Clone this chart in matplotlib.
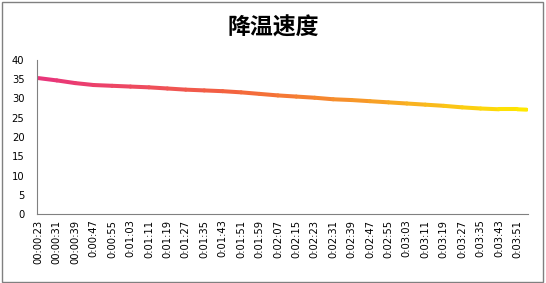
import matplotlib
matplotlib.use("Agg")
import matplotlib.pyplot as plt
import numpy as np
from matplotlib.collections import LineCollection
from matplotlib.colors import LinearSegmentedColormap
from matplotlib.patches import Rectangle

# seconds since start (category positions)
seconds = [23, 31, 39, 47, 55, 63, 71, 79, 87, 95, 103, 111, 119, 127, 135,
           143, 151, 159, 167, 175, 183, 191, 199, 207, 215, 223, 231, 235]
temps = [35.3, 34.7, 34.0, 33.5, 33.3, 33.1, 32.9, 32.6, 32.3, 32.1, 31.9, 31.6,
         31.2, 30.8, 30.5, 30.2, 29.8, 29.6, 29.3, 29.0, 28.7, 28.4, 28.1, 27.7,
         27.4, 27.2, 27.2, 27.1]
tick_labels = ["00:00:23", "00:00:31", "00:00:39", "0:00:47", "0:00:55", "0:01:03",
               "0:01:11", "0:01:19", "0:01:27", "0:01:35", "0:01:43", "0:01:51",
               "0:01:59", "0:02:07", "0:02:15", "0:02:23", "0:02:31", "0:02:39",
               "0:02:47", "0:02:55", "0:03:03", "0:03:11", "0:03:19", "0:03:27",
               "0:03:35", "0:03:43", "0:03:51"]
yticks = [0, 5, 10, 15, 20, 25, 30, 35, 40]
title = "降温速度"

plt.rcParams['font.family'] = ['Noto Sans CJK SC', 'DejaVu Sans']

W, H = 546, 283
fig = plt.figure(figsize=(W / 100, H / 100), dpi=100)
ax = fig.add_axes([37 / W, 1 - 214 / H, (528 - 37) / W, (214 - 60) / H])

x = np.array(seconds, dtype=float)
y = np.array(temps, dtype=float)
pts = np.column_stack([x, y]).reshape(-1, 1, 2)
segs = np.concatenate([pts[:-1], pts[1:]], axis=1)
cmap = LinearSegmentedColormap.from_list(
    "grad", ["#E8347C", "#EE4A60", "#F3643E", "#F68A2E", "#F9B81E", "#FFEA00"])
lc = LineCollection(segs, cmap=cmap, linewidths=2.9, capstyle='round', joinstyle='round')
lc.set_array((x[:-1] + x[1:]) / 2)
lc.set_clim(x.min(), x.max())
ax.add_collection(lc)

ax.set_xlim(22.4, 235.6)
ax.set_ylim(0, 40)
ax.set_yticks(yticks)
ax.set_yticklabels([str(v) for v in yticks], fontsize=7.2, family='DejaVu Sans')
tick_pos = seconds[:len(tick_labels)]
ax.set_xticks(tick_pos)
ax.set_xticklabels(tick_labels, rotation=90, fontsize=7.2, family='DejaVu Sans',
                   va='top', ha='center')
ax.tick_params(axis='both', length=0, colors='black')
ax.tick_params(axis='y', pad=9)
ax.tick_params(axis='x', pad=4)
for s in ['top', 'right']:
    ax.spines[s].set_visible(False)
for s in ['left', 'bottom']:
    ax.spines[s].set_color('#808080')
    ax.spines[s].set_linewidth(0.8)

fig.text(273 / W, 1 - 28 / H, title, ha='center', va='center', fontsize=16.5,
         fontweight='bold', color='black')

fig.patches.append(Rectangle((1.5 / W, 1.5 / H), (543 - 1.5) / W, (281 - 1.5) / H,
                             transform=fig.transFigure, fill=False,
                             edgecolor='#808080', linewidth=1.0))

fig.savefig("out.png", dpi=100)
